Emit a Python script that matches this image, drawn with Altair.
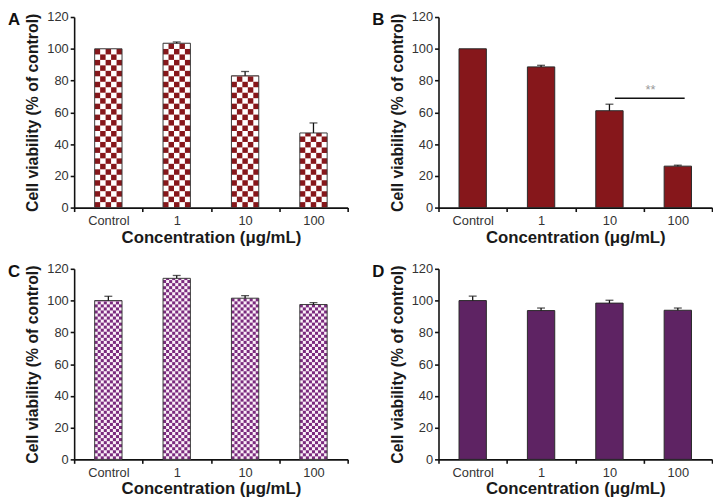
import math
import altair as alt
import pandas as pd

# ---------------- data ----------------
categories = ["Control", "1", "10", "100"]

a_values = [100.0, 103.5, 83.0, 47.0]
a_errors = [0.0, 0.8, 2.7, 6.3]

b_values = [100.0, 88.6, 61.0, 26.1]
b_errors = [0.0, 1.0, 4.1, 0.6]

c_values = [100.0, 114.0, 101.5, 97.5]
c_errors = [2.7, 1.8, 1.6, 1.2]

d_values = [100.0, 93.7, 98.4, 93.9]
d_errors = [2.8, 1.6, 1.8, 1.4]

sig_from = ["10"]
sig_to = ["100"]
sig_level = [68.8]
sig_label = ["**"]

x_title = "Concentration (μg/mL)"
y_title = "Cell viability (% of control)"
y_ticks = [0, 20, 40, 60, 80, 100, 120]

# ---------------- style ----------------
PLOT_W, PLOT_H = 277, 193
Y_MAX = 120
BAR_FRAC = 0.4
FONT = "Liberation Sans"

x_scale = alt.Scale(domain=categories, paddingInner=0, paddingOuter=0)
y_scale = alt.Scale(domain=[0, Y_MAX], nice=False, zero=True)

X_AXIS = alt.Axis(title=x_title, labelAngle=0, tickBand="extent", labelPadding=3,
                  titlePadding=2, titleFontSize=17, labelFontSize=13)
Y_AXIS = alt.Axis(title=y_title, values=y_ticks, titlePadding=6, labelPadding=2,
                  titleFontSize=16, labelFontSize=13)


def px(field="cat:N", **kw):
    return alt.X(field, scale=x_scale, axis=X_AXIS, **kw)


def py(field):
    return alt.Y(field, scale=y_scale, axis=Y_AXIS)


def make_panel(letter, values, errors, color, checker_cols=None, light="#ffffff",
               sig=False):
    df = pd.DataFrame({"cat": categories, "val": values, "err": errors})
    df["top"] = df["val"] + df["err"]
    base = alt.Chart(df)
    layers = []
    bar_w = alt.RelativeBandSize(BAR_FRAC)

    if checker_cols:
        layers.append(
            base.mark_bar(width=bar_w, fill=light, strokeWidth=0).encode(x=px(), y=py("val:Q"))
        )
        band_px = PLOT_W / len(categories)
        cell_px = BAR_FRAC * band_px / checker_cols
        cell_h = cell_px * Y_MAX / PLOT_H
        rows = []
        for cat, v in zip(categories, values):
            nrows = math.ceil(v / cell_h)
            for r in range(nrows):
                for c in range(checker_cols):
                    if (r + c) % 2 == 0:
                        rows.append({"cat": cat, "col": c,
                                     "y0": r * cell_h, "y1": min((r + 1) * cell_h, v)})
        cells = pd.DataFrame(rows)
        for c in range(checker_cols):
            off = (c - (checker_cols - 1) / 2) * cell_px
            layers.append(
                alt.Chart(cells[cells["col"] == c]).mark_bar(
                    width=alt.RelativeBandSize(BAR_FRAC / checker_cols),
                    xOffset=off, fill=color, strokeWidth=0,
                ).encode(x=px(), y=py("y0:Q"), y2="y1:Q")
            )
        layers.append(
            base.mark_bar(width=bar_w, fillOpacity=0, stroke="#3a3a3a", strokeWidth=1).encode(
                x=px(), y=py("val:Q")
            )
        )
    else:
        layers.append(
            base.mark_bar(width=bar_w, fill=color, stroke="#2a2a2a", strokeWidth=1).encode(
                x=px(), y=py("val:Q")
            )
        )

    err = base.transform_filter("datum.err > 0")
    layers.append(
        err.mark_rule(color="#111", strokeWidth=1.3).encode(
            x=px(), y=py("val:Q"), y2="top:Q"
        )
    )
    layers.append(
        err.mark_tick(color="#111", thickness=1.3, size=8).encode(
            x=px(), y=py("top:Q")
        )
    )

    if sig:
        sdf = pd.DataFrame({"x1": sig_from, "x2": sig_to, "y": sig_level, "label": sig_label})
        layers.append(
            alt.Chart(sdf).mark_rule(color="#111", strokeWidth=1.6).encode(
                x=px("x1:N", bandPosition=0.58),
                x2=alt.X2("x2:N", bandPosition=0.6),
                y=py("y:Q"),
            )
        )
        layers.append(
            alt.Chart(sdf).mark_text(color="#999999", fontSize=13, font=FONT,
                                     baseline="middle", dy=-8).encode(
                x=px("x2:N", bandPosition=0.1),
                y=py("y:Q"),
                text="label:N",
            )
        )

    ldf = pd.DataFrame({"t": [letter]})
    layers.append(
        alt.Chart(ldf).mark_text(align="left", baseline="middle", fontSize=17,
                                 fontWeight="bold", font=FONT, color="#111").encode(
            text="t:N", x=alt.value(-67), y=alt.value(3)
        )
    )
    return alt.layer(*layers).properties(width=PLOT_W, height=PLOT_H)


red = "#86171b"
purple_dark = "#5e2363"
purple_check = "#7a2a7e"

pa = make_panel("A", a_values, a_errors, red, checker_cols=5, light="#ffffff")
pb = make_panel("B", b_values, b_errors, red, sig=True)
pc = make_panel("C", c_values, c_errors, purple_check, checker_cols=9, light="#fbf0f8")
pd_ = make_panel("D", d_values, d_errors, purple_dark)

chart = alt.vconcat(
    alt.hconcat(pa, pb, spacing=24),
    alt.hconcat(pc, pd_, spacing=24),
    spacing=18,
).properties(padding=0).configure_view(stroke=None).configure_axis(
    labelFont=FONT,
    labelColor="#333333",
    titleFont=FONT,
    titleFontWeight="bold",
    titleColor="#1a1a1a",
    domainColor="#111111",
    domainWidth=1.6,
    tickColor="#111111",
    tickWidth=1.6,
    tickSize=4,
    grid=False,
)

chart.save("out.html", embed_options={"renderer": "svg", "actions": False})
